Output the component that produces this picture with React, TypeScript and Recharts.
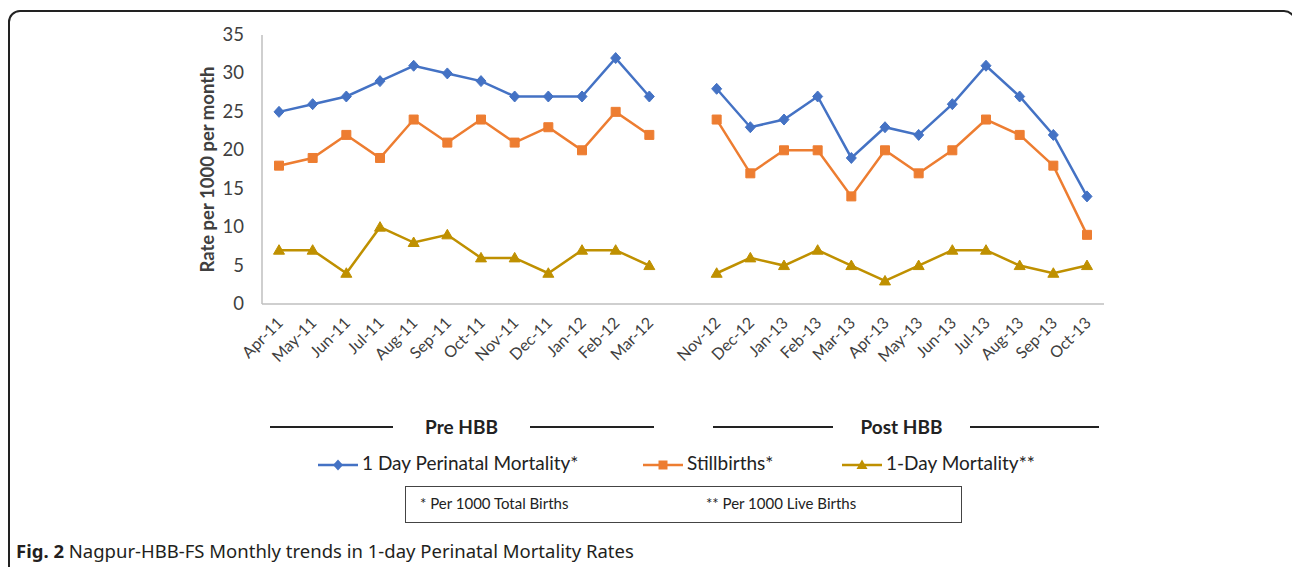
import React from "react";
import { LineChart, Line, XAxis, YAxis } from "recharts";

const MONTHS = [
  "Apr-11", "May-11", "Jun-11", "Jul-11", "Aug-11", "Sep-11", "Oct-11", "Nov-11", "Dec-11", "Jan-12", "Feb-12", "Mar-12",
  "",
  "Nov-12", "Dec-12", "Jan-13", "Feb-13", "Mar-13", "Apr-13", "May-13", "Jun-13", "Jul-13", "Aug-13", "Sep-13", "Oct-13",
];
const PERINATAL = [25, 26, 27, 29, 31, 30, 29, 27, 27, 27, 32, 27, null, 28, 23, 24, 27, 19, 23, 22, 26, 31, 27, 22, 14];
const STILLBIRTHS = [18, 19, 22, 19, 24, 21, 24, 21, 23, 20, 25, 22, null, 24, 17, 20, 20, 14, 20, 17, 20, 24, 22, 18, 9];
const ONE_DAY = [7, 7, 4, 10, 8, 9, 6, 6, 4, 7, 7, 5, null, 4, 6, 5, 7, 5, 3, 5, 7, 7, 5, 4, 5];
const Y_TICKS = [0, 5, 10, 15, 20, 25, 30, 35];

const SERIES = [
  { key: "perinatal", name: "1 Day Perinatal Mortality*", color: "#4472C4", shape: "diamond" },
  { key: "still", name: "Stillbirths*", color: "#ED7D31", shape: "square" },
  { key: "oneDay", name: "1-Day Mortality**", color: "#BF9000", shape: "triangle" },
];

const data = MONTHS.map((m, i) => ({
  month: m,
  perinatal: PERINATAL[i],
  still: STILLBIRTHS[i],
  oneDay: ONE_DAY[i],
}));

const FONT = "Lato, 'Open Sans', sans-serif";
const TEXT = "#404040";

function markerPath(shape: string, cx: number, cy: number) {
  if (shape === "diamond") return `M${cx},${cy - 5.5}L${cx + 5},${cy}L${cx},${cy + 5.5}L${cx - 5},${cy}Z`;
  if (shape === "square") return `M${cx - 4.5},${cy - 4.5}h9v9h-9Z`;
  return `M${cx},${cy - 5.5}L${cx + 5.5},${cy + 4}L${cx - 5.5},${cy + 4}Z`;
}

const makeDot = (shape: string, color: string) => (props: any) => {
  const { cx, cy, index, value } = props;
  if (value == null || cx == null || cy == null) return <g key={`d-${shape}-${index}`} />;
  return <path key={`d-${shape}-${index}`} d={markerPath(shape, cx, cy)} fill={color} stroke={color} strokeWidth={1} />;
};

const XTick = ({ x, y, payload }: any) => {
  if (!payload.value) return null;
  return (
    <text transform={`translate(${x + 5},${y + 12}) rotate(-45)`} textAnchor="end" fontSize={16} fill={TEXT} fontFamily={FONT}>
      {payload.value}
    </text>
  );
};

const YTick = ({ x, y, payload }: any) => (
  <text x={x - 10} y={y + 6} textAnchor="end" fontSize={18.5} fill={TEXT} fontFamily={FONT}>
    {payload.value}
  </text>
);

function LegendIcon({ shape, color }: { shape: string; color: string }) {
  return (
    <svg width={42} height={14} style={{ verticalAlign: "middle", marginRight: 3 }}>
      <line x1={1} y1={7} x2={41} y2={7} stroke={color} strokeWidth={2.5} />
      <path d={markerPath(shape, 21, 7)} fill={color} />
    </svg>
  );
}

function PhaseLabel({ label, left, right, lineL, lineR }: any) {
  return (
    <>
      <div style={{ position: "absolute", top: 426, left: lineL[0], width: lineL[1] - lineL[0], borderTop: "2px solid #222" }} />
      <div style={{ position: "absolute", top: 426, left: lineR[0], width: lineR[1] - lineR[0], borderTop: "2px solid #222" }} />
      <div style={{ position: "absolute", top: 415, left, width: right - left, textAlign: "center", fontFamily: FONT, fontWeight: 700, fontSize: 19, color: "#222" }}>
        {label}
      </div>
    </>
  );
}

export default function App() {
  return (
    <div style={{ position: "absolute", left: 0, top: 0, width: 1292, height: 567, overflow: "hidden", background: "#fff" }}>
      <div style={{ position: "absolute", left: 8, top: 10, width: 1284, height: 600, border: "2px solid #222", borderRadius: 12 }} />
      <div style={{ position: "absolute", left: 0, top: 0 }}>
        <LineChart width={1292} height={400} data={data} margin={{ top: 35, right: 188, left: 0, bottom: 0 }}>
          <XAxis
            dataKey="month"
            interval={0}
            tickLine={false}
            axisLine={{ stroke: "#BFBFBF", strokeWidth: 1.5 }}
            tick={<XTick />}
            height={96}
            padding={{ left: 17, right: 17 }}
          />
          <YAxis
            width={262}
            domain={[0, 35]}
            ticks={Y_TICKS}
            tickLine={false}
            axisLine={{ stroke: "#BFBFBF", strokeWidth: 1.5 }}
            tick={<YTick />}
            label={{
              value: "Rate per 1000 per month",
              angle: -90,
              position: "center",
              dx: 76,
              style: { fontFamily: FONT, fontWeight: 700, fontSize: 18.5, fill: TEXT },
            }}
          />
          {SERIES.map((s) => (
            <Line
              key={s.key}
              dataKey={s.key}
              name={s.name}
              stroke={s.color}
              strokeWidth={2.5}
              dot={makeDot(s.shape, s.color)}
              activeDot={false}
              isAnimationActive={false}
            />
          ))}
        </LineChart>
      </div>

      <PhaseLabel label="Pre HBB" left={393} right={530} lineL={[270, 393]} lineR={[530, 654]} />
      <PhaseLabel label="Post HBB" left={833} right={970} lineL={[713, 833]} lineR={[970, 1099]} />

      <div style={{ position: "absolute", top: 451, left: 0, width: 1292, fontFamily: FONT, fontSize: 19, color: "#222" }}>
        {SERIES.map((s, i) => (
          <span key={s.key} style={{ position: "absolute", left: [317, 642, 841][i], whiteSpace: "nowrap" }}>
            <LegendIcon shape={s.shape} color={s.color} />
            {s.name}
          </span>
        ))}
      </div>

      <div style={{ position: "absolute", left: 405, top: 486, width: 555, height: 35, border: "1.5px solid #444", fontFamily: FONT, fontSize: 15, color: "#222" }}>
        <span style={{ position: "absolute", left: 14, top: 7 }}>* Per 1000 Total Births</span>
        <span style={{ position: "absolute", left: 300, top: 7 }}>** Per 1000 Live Births</span>
      </div>

      <div style={{ position: "absolute", left: 16, top: 538, fontFamily: "'Noto Sans', sans-serif", fontSize: 18.5, color: "#231f20", whiteSpace: "nowrap" }}>
        <b>Fig. 2</b> Nagpur-HBB-FS Monthly trends in 1-day Perinatal Mortality Rates
      </div>
    </div>
  );
}
